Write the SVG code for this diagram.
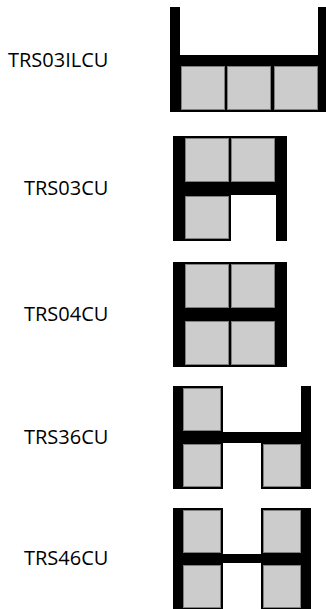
<svg xmlns="http://www.w3.org/2000/svg" width="326" height="609" viewBox="0 0 326 609">
<style>
.lbl{font-family:"Open Sans","Noto Sans",sans-serif;font-size:20px;fill:#000}
.frame{fill:#000}
.box{fill:#CCCCCC;stroke:#7F7F7F;stroke-width:1}
</style>
<rect width="326" height="609" fill="#fff"/>
<g id="connectors"></g>
<g id="TRS03ILCU">
<text class="lbl" x="8" y="67">TRS03ILCU</text>
<path class="frame" d="M170,7 H180 V55 H318 V7 H328 V112 H170 Z"/>
<rect class="box" x="181.5" y="66.5" width="43" height="43"/>
<rect class="box" x="227.5" y="66.5" width="43" height="43"/>
<rect class="box" x="274.5" y="66.5" width="43" height="43"/>
</g>
<g id="TRS03CU">
<text class="lbl" x="24" y="195">TRS03CU</text>
<path class="frame" d="M173,136 H287 V241 H276 V195 H231 V241 H173 Z"/>
<rect class="box" x="185.5" y="138.5" width="43" height="43"/>
<rect class="box" x="231.5" y="138.5" width="43" height="43"/>
<rect class="box" x="185.5" y="196.5" width="43" height="42"/>
</g>
<g id="TRS04CU">
<text class="lbl" x="24" y="321">TRS04CU</text>
<rect class="frame" x="173" y="262" width="114" height="105"/>
<rect class="box" x="185.5" y="264.5" width="43" height="43"/>
<rect class="box" x="231.5" y="264.5" width="43" height="43"/>
<rect class="box" x="185.5" y="321.5" width="43" height="43"/>
<rect class="box" x="231.5" y="321.5" width="43" height="43"/>
</g>
<g id="TRS36CU">
<text class="lbl" x="24" y="444">TRS36CU</text>
<path class="frame" d="M173,386 H223 V432 H301 V386 H311 V489 H261 V443 H223 V489 H173 Z"/>
<rect class="box" x="183.5" y="388.5" width="37" height="42"/>
<rect class="box" x="183.5" y="444.5" width="37" height="42"/>
<rect class="box" x="263.5" y="444.5" width="37" height="42"/>
</g>
<g id="TRS46CU">
<text class="lbl" x="24" y="565">TRS46CU</text>
<path class="frame" d="M173,508 H223 V554 H261 V508 H311 V609 H261 V563 H223 V609 H173 Z"/>
<rect class="box" x="183.5" y="510.5" width="37" height="42"/>
<rect class="box" x="263.5" y="510.5" width="37" height="42"/>
<rect class="box" x="183.5" y="565.5" width="37" height="42"/>
<rect class="box" x="263.5" y="565.5" width="37" height="42"/>
</g>
</svg>
